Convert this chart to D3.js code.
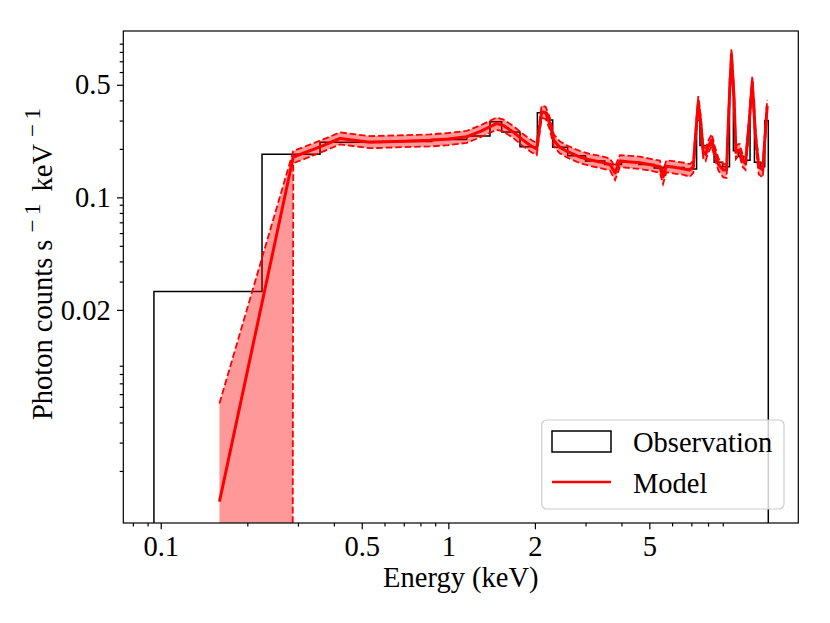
<!DOCTYPE html>
<html>
<head>
<meta charset="utf-8">
<script src="https://cdn.jsdelivr.net/npm/d3@7"></script>
<style>
  body { margin: 0; background: #fff; }
  text { font-family: "Liberation Serif", "DejaVu Serif", serif; }
</style>
</head>
<body>
<script>
// observation: histogram bin edges (keV) and counts per bin
let obsEdges = [0.0947, 0.225, 0.358, 0.534, 0.876, 1.159, 1.396, 1.533, 1.775, 2.04, 2.20, 2.306,
    2.60, 3.0, 3.5, 4.0, 4.6, 5.2, 5.6, 6.2, 6.6, 7.3, 7.5, 7.9, 8.4, 9.0, 9.5, 9.8, 10.2, 10.6,
    11.2, 11.6, 12.2, 12.6, 12.96];
let obsCounts = [0.026, 0.185, 0.220, 0.222, 0.229, 0.240, 0.295, 0.255, 0.206, 0.335, 0.302,
    0.205, 0.181, 0.168, 0.160, 0.165, 0.160, 0.152, 0.154, 0.153, 0.150, 0.300, 0.210, 0.210,
    0.165, 0.155, 0.550, 0.195, 0.180, 0.170, 0.400, 0.165, 0.155, 0.300];

// model: energy grid, best fit and its lower / upper bounds
let modelE = [0.160, 0.289, 0.358, 0.420, 0.534, 0.700, 0.864, 1.00, 1.16, 1.30, 1.40, 1.47, 1.55,
    1.68, 1.80, 1.95, 2.03, 2.11, 2.18, 2.25, 2.33, 2.44, 2.60, 2.87, 3.10, 3.37, 3.65, 3.80, 3.95,
    4.30, 4.63, 5.00, 5.44, 5.58, 5.73, 6.20, 6.60, 6.92, 7.11, 7.25, 7.40, 7.55, 7.70, 7.85, 8.00,
    8.24, 8.45, 8.70, 9.04, 9.28, 9.45, 9.65, 9.85, 10.00, 10.15, 10.30, 10.55, 10.80, 11.10, 11.40,
    11.70, 12.00, 12.40, 12.65, 12.85];
let modelY = [0.00129, 0.178, 0.206, 0.232, 0.220, 0.223, 0.226, 0.230, 0.238, 0.258, 0.275, 0.287,
    0.280, 0.255, 0.230, 0.207, 0.200, 0.340, 0.335, 0.290, 0.225, 0.205, 0.192, 0.178, 0.171, 0.166,
    0.160, 0.142, 0.168, 0.166, 0.164, 0.160, 0.155, 0.134, 0.156, 0.153, 0.150, 0.148, 0.155, 0.250,
    0.390, 0.290, 0.190, 0.185, 0.205, 0.227, 0.190, 0.160, 0.148, 0.148, 0.350, 0.770, 0.420, 0.190,
    0.195, 0.197, 0.170, 0.162, 0.280, 0.520, 0.240, 0.155, 0.148, 0.250, 0.370];
let modelLo = [0, 0.163, 0.189, 0.213, 0.202, 0.205, 0.207, 0.211, 0.218, 0.237, 0.252, 0.263,
    0.257, 0.234, 0.211, 0.190, 0.183, 0.312, 0.307, 0.266, 0.206, 0.188, 0.176, 0.163, 0.157, 0.152,
    0.147, 0.128, 0.154, 0.152, 0.150, 0.147, 0.142, 0.121, 0.143, 0.140, 0.138, 0.134, 0.142, 0.229,
    0.358, 0.266, 0.174, 0.168, 0.188, 0.208, 0.174, 0.146, 0.133, 0.132, 0.321, 0.706, 0.385, 0.173,
    0.179, 0.181, 0.155, 0.148, 0.257, 0.477, 0.220, 0.139, 0.133, 0.229, 0.339];
let modelHi = [0.00525, 0.194, 0.225, 0.253, 0.240, 0.243, 0.246, 0.251, 0.259, 0.281, 0.300, 0.313,
    0.305, 0.278, 0.251, 0.226, 0.218, 0.371, 0.365, 0.316, 0.245, 0.223, 0.209, 0.194, 0.186, 0.181,
    0.174, 0.155, 0.183, 0.181, 0.179, 0.174, 0.169, 0.146, 0.170, 0.167, 0.164, 0.161, 0.169, 0.273,
    0.425, 0.316, 0.207, 0.202, 0.223, 0.247, 0.207, 0.174, 0.161, 0.161, 0.382, 0.839, 0.458, 0.207,
    0.213, 0.215, 0.185, 0.177, 0.305, 0.567, 0.262, 0.169, 0.161, 0.273, 0.403];

// ticks
let xMajor = [0.1, 0.5, 1, 2, 5];
let xMinor = [0.08, 0.09, 0.2, 0.3, 0.4, 0.6, 0.7, 0.8, 0.9, 3, 4, 6, 7, 8, 9];
let yMajor = [0.02, 0.1, 0.5];
let yMinor = [0.002, 0.003, 0.004, 0.005, 0.006, 0.007, 0.008, 0.009,
    0.03, 0.04, 0.05, 0.06, 0.07, 0.08, 0.09, 0.2, 0.3, 0.4, 0.6, 0.7, 0.8, 0.9];

let width = 830, height = 623;
let plotLeft = 123.3, plotRight = 798.3, plotTop = 31, plotBottom = 523;
let floor = 1e-300; // like matplotlib's clipping of non-positive values

let x = d3.scaleLog().domain([0.0741, 16.48]).range([plotLeft, plotRight]);
let y = d3.scaleLog().domain([0.00095, 1.079]).range([plotBottom, plotTop]);
let yv = v => y(Math.max(v, floor));

let svg = d3.select('body').append('svg')
    .attr('width', width)
    .attr('height', height);

svg.append('defs').append('clipPath').attr('id', 'plot')
    .append('rect')
    .attr('x', plotLeft).attr('y', plotTop)
    .attr('width', plotRight - plotLeft).attr('height', plotBottom - plotTop);

let plot = svg.append('g').attr('clip-path', 'url(#plot)');

let model = modelE.map((e, i) => ({e: e, v: modelY[i], lo: modelLo[i], hi: modelHi[i]}));

// observation as step histogram down to the baseline (drawn under the model)
let steps = [{e: obsEdges[0], v: 0}];
obsCounts.forEach((c, i) => {
    steps.push({e: obsEdges[i], v: c});
    steps.push({e: obsEdges[i + 1], v: c});
});
steps.push({e: obsEdges[obsEdges.length - 1], v: 0});

plot.append('path')
    .datum(steps)
    .attr('d', d3.line().x(d => x(d.e)).y(d => yv(d.v)))
    .attr('fill', 'none')
    .attr('stroke', 'black')
    .attr('stroke-width', 1.5);

// uncertainty band
plot.append('path')
    .datum(model)
    .attr('d', d3.area().x(d => x(d.e)).y0(d => yv(d.lo)).y1(d => yv(d.hi)))
    .attr('fill', 'red')
    .attr('fill-opacity', 0.4);

['lo', 'hi'].forEach(k => {
    plot.append('path')
        .datum(model)
        .attr('d', d3.line().x(d => x(d.e)).y(d => yv(d[k])))
        .attr('fill', 'none')
        .attr('stroke', 'red')
        .attr('stroke-width', 1.8)
        .attr('stroke-dasharray', '6.6,2.9');
});

plot.append('path')
    .datum(model)
    .attr('d', d3.line().x(d => x(d.e)).y(d => yv(d.v)))
    .attr('fill', 'none')
    .attr('stroke', 'red')
    .attr('stroke-width', 3)
    .attr('stroke-linejoin', 'round');

// axes
let xAxis = d3.axisBottom(x).tickValues(xMajor).tickFormat(d3.format('')).tickSize(6.3).tickPadding(6.3);
let xAxisMinor = d3.axisBottom(x).tickValues(xMinor).tickFormat('').tickSize(3.6);
let yAxis = d3.axisLeft(y).tickValues(yMajor).tickFormat(d3.format('')).tickSize(6.3).tickPadding(6.3);
let yAxisMinor = d3.axisLeft(y).tickValues(yMinor).tickFormat('').tickSize(3.6);

[xAxis, xAxisMinor].forEach(a => {
    svg.append('g').attr('class', 'axis')
        .attr('transform', `translate(0, ${plotBottom})`)
        .call(a);
});
[yAxis, yAxisMinor].forEach(a => {
    svg.append('g').attr('class', 'axis')
        .attr('transform', `translate(${plotLeft}, 0)`)
        .call(a);
});
svg.selectAll('.axis .domain').remove();
svg.selectAll('.axis line').attr('stroke', 'black').attr('stroke-width', 1.2);
svg.selectAll('.axis text')
    .attr('fill', 'black')
    .style('font-size', '28.5px')
    .style('font-family', '"Liberation Serif", serif');

svg.append('rect')
    .attr('x', plotLeft).attr('y', plotTop)
    .attr('width', plotRight - plotLeft).attr('height', plotBottom - plotTop)
    .attr('fill', 'none')
    .attr('stroke', 'black')
    .attr('stroke-width', 1.2);

// labels
svg.append('text')
    .attr('x', (plotLeft + plotRight) / 2)
    .attr('y', 587)
    .attr('text-anchor', 'middle')
    .style('font-size', '28.5px')
    .text('Energy (keV)');

let ylab = svg.append('text')
    .attr('transform', 'translate(52, 264) rotate(-90)')
    .attr('text-anchor', 'middle')
    .style('font-size', '28.5px');
ylab.append('tspan').text('Photon counts s');
ylab.append('tspan').attr('dy', -12).attr('dx', 7).style('font-size', '23px').text('\u2212\u20091');
ylab.append('tspan').attr('dy', 12).attr('dx', 12).text('keV');
ylab.append('tspan').attr('dy', -12).attr('dx', 7).style('font-size', '23px').text('\u2212\u20091');

// legend
let legend = svg.append('g');
legend.append('rect')
    .attr('x', 541.7).attr('y', 420)
    .attr('width', 242.3).attr('height', 89)
    .attr('rx', 5)
    .attr('fill', 'white').attr('fill-opacity', 0.8)
    .attr('stroke', '#cccccc').attr('stroke-width', 1.2);
legend.append('rect')
    .attr('x', 552).attr('y', 431)
    .attr('width', 59).attr('height', 21)
    .attr('fill', 'none')
    .attr('stroke', 'black').attr('stroke-width', 1.5);
legend.append('line')
    .attr('x1', 552).attr('x2', 611)
    .attr('y1', 482).attr('y2', 482)
    .attr('stroke', 'red').attr('stroke-width', 2.7);
legend.append('text').attr('x', 633).attr('y', 451.5).style('font-size', '28.5px').text('Observation');
legend.append('text').attr('x', 633).attr('y', 492.5).style('font-size', '28.5px').text('Model');
</script>
</body>
</html>
